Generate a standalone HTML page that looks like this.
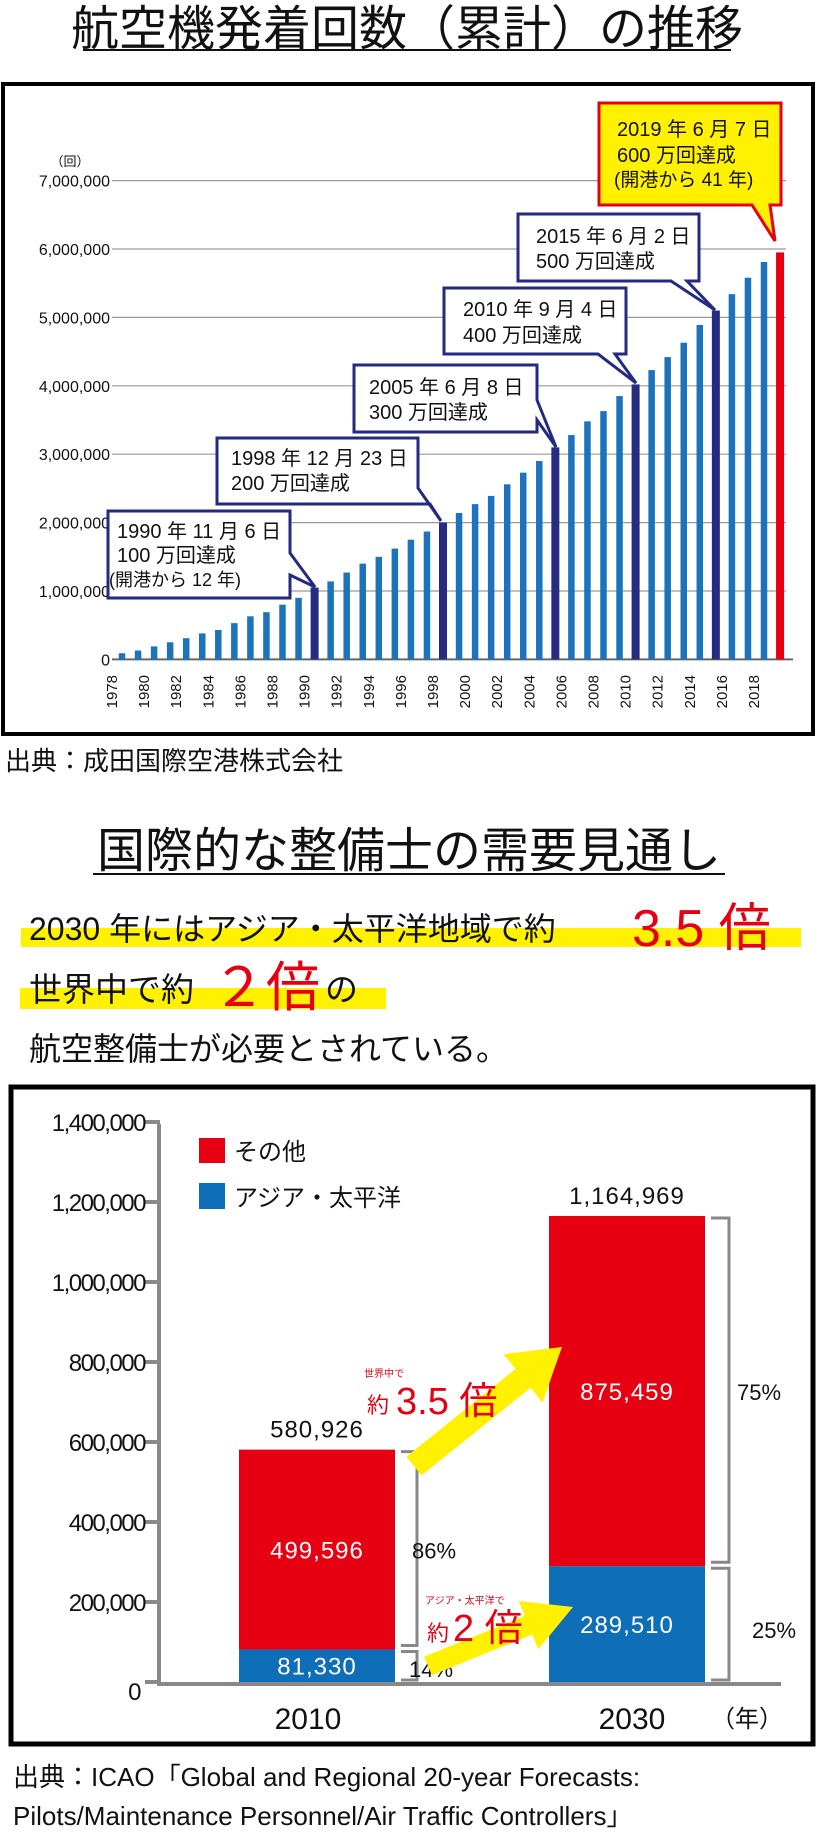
<!DOCTYPE html>
<html lang="ja"><head><meta charset="utf-8">
<style>
html,body{margin:0;padding:0;background:#fff;}
svg{display:block;font-family:"Liberation Sans","Noto Sans CJK JP",sans-serif;}
</style></head>
<body>
<svg id="page" width="816" height="1832" viewBox="0 0 816 1832" xmlns="http://www.w3.org/2000/svg">
  <text x="407" y="45" font-size="48" text-anchor="middle" fill="#111">航空機発着回数（累計）の推移</text>
  <line x1="83" y1="50" x2="731" y2="50" stroke="#111" stroke-width="2"/>
  <rect x="3" y="84" width="810" height="650" fill="none" stroke="#000" stroke-width="4"/>
  <g id="top-chart"></g>
  <g id="callouts">
    <path d="M108,511 H290 V553 L315,587 L290,575 V598 H108 Z" fill="#fff" stroke="#232a80" stroke-width="3"/>
    <text font-size="20" fill="#111"><tspan x="117" y="538">1990 年 11 月 6 日</tspan><tspan x="117" y="562">100 万回達成</tspan><tspan x="109" y="586" font-size="18">(開港から 12 年)</tspan></text>
    <path d="M217,438 H418 V488 L441,521 L430,504 H217 Z" fill="#fff" stroke="#232a80" stroke-width="3"/>
    <text font-size="20" fill="#111"><tspan x="231" y="465">1998 年 12 月 23 日</tspan><tspan x="231" y="490">200 万回達成</tspan></text>
    <path d="M354,365 H537 V400 L556,447 L537,420 V432 H354 Z" fill="#fff" stroke="#232a80" stroke-width="3"/>
    <text font-size="20" fill="#111"><tspan x="369" y="394">2005 年 6 月 8 日</tspan><tspan x="369" y="419">300 万回達成</tspan></text>
    <path d="M444,288 H626 V354 H615 L636,383 L598,354 H444 Z" fill="#fff" stroke="#232a80" stroke-width="3"/>
    <text font-size="20" fill="#111"><tspan x="463" y="316">2010 年 9 月 4 日</tspan><tspan x="463" y="342">400 万回達成</tspan></text>
    <path d="M518,214 H699 V281 H687 L715,310 L671,281 H518 Z" fill="#fff" stroke="#232a80" stroke-width="3"/>
    <text font-size="20" fill="#111"><tspan x="536" y="243">2015 年 6 月 2 日</tspan><tspan x="536" y="268">500 万回達成</tspan></text>
    <path d="M599,103 H781 V205 H770 L775,241 L752,205 H599 Z" fill="#fff100" stroke="#e60012" stroke-width="3"/>
    <text font-size="20" fill="#111"><tspan x="617" y="136">2019 年 6 月 7 日</tspan><tspan x="617" y="162">600 万回達成</tspan><tspan x="614" y="186" font-size="19">(開港から 41 年)</tspan></text>
  </g>
  <text x="5" y="770" font-size="26" fill="#111">出典：成田国際空港株式会社</text>

  <text x="409" y="867" font-size="48" text-anchor="middle" fill="#111">国際的な整備士の需要見通し</text>
  <line x1="93" y1="874" x2="725" y2="874" stroke="#111" stroke-width="2"/>
  <rect x="21" y="928" width="780" height="19" fill="#fff100"/>
  <rect x="20" y="988" width="366" height="21" fill="#fff100"/>
  <text x="29" y="940" font-size="32" fill="#111">2030 年にはアジア・太平洋地域で約</text>
  <text x="632" y="946" font-size="52" fill="#e60012">3.5 倍</text>
  <text x="29" y="1001" font-size="33" fill="#111">世界中で約</text>
  <text x="212" y="1006" font-size="54" fill="#e60012">２倍</text>
  <text x="325" y="1001" font-size="33" fill="#111">の</text>
  <text x="29" y="1060" font-size="32" fill="#111">航空整備士が必要とされている。</text>

  <rect x="11" y="1087" width="802" height="657" fill="none" stroke="#000" stroke-width="5"/>
  <g id="bottom-chart"></g>
  <text x="13" y="1786" font-size="26" fill="#111">出典：ICAO「Global and Regional 20-year Forecasts:</text>
  <text x="13" y="1825" font-size="26" fill="#111">Pilots/Maintenance Personnel/Air Traffic Controllers」</text>
</svg>
<script>
const NS = "http://www.w3.org/2000/svg";
const years = [1978,1979,1980,1981,1982,1983,1984,1985,1986,1987,1988,1989,1990,1991,1992,1993,1994,1995,1996,1997,1998,1999,2000,2001,2002,2003,2004,2005,2006,2007,2008,2009,2010,2011,2012,2013,2014,2015,2016,2017,2018,2019];
const cumulativeFlightsMillions = [0.09,0.13,0.19,0.25,0.31,0.38,0.43,0.53,0.63,0.69,0.80,0.90,1.05,1.14,1.27,1.40,1.50,1.62,1.75,1.87,2.00,2.14,2.27,2.39,2.56,2.73,2.90,3.10,3.28,3.48,3.63,3.85,4.02,4.23,4.42,4.63,4.89,5.10,5.34,5.58,5.81,5.95];
const milestoneYears = [1990,1998,2005,2010,2015];
const finalMilestoneYear = 2019;
const yTicksTop = [0,1,2,3,4,5,6,7];
const yTickLabelsTop = ["0","1,000,000","2,000,000","3,000,000","4,000,000","5,000,000","6,000,000","7,000,000"];

function mk(tag, attrs, parent){const e=document.createElementNS(NS,tag);for(const k in attrs)e.setAttribute(k,attrs[k]);parent.appendChild(e);return e;}

const topG = document.getElementById('top-chart');
const callG = document.getElementById('callouts');
const xTop = i => 122 + i*16.05;
const yTop = v => 659.4 - v*68.4;
yTicksTop.forEach((t,i)=>{
  if(t>0){const g=mk('line',{x1:112,x2:786,y1:yTop(t),y2:yTop(t),stroke:'#9a9a9a','stroke-width':1.2},topG);
  
  }
  const tx=mk('text',{x:110,y:yTop(t)+6,'font-size':16,'text-anchor':'end',fill:'#111'},topG);
  tx.textContent=yTickLabelsTop[i];
  
  
});
const unitTop=mk('text',{x:70,y:166,'font-size':13,'text-anchor':'middle',fill:'#111'},topG);
unitTop.textContent='（回）';


const baseTop=mk('line',{x1:112,x2:793,y1:yTop(0),y2:yTop(0),stroke:'#666','stroke-width':2},topG);


years.forEach((yr,i)=>{
  const v=cumulativeFlightsMillions[i];
  let col='#1d72bc', w=6.5;
  if(milestoneYears.includes(yr)){col='#262c82';w=8;}
  if(yr===finalMilestoneYear){col='#e60012';w=8;}
  const r=mk('rect',{x:xTop(i)-w/2,y:yTop(v),width:w,height:yTop(0)-yTop(v),fill:col},topG);
  
  
  if(yr%2===0){
    const lx=xTop(i)-10+5;
    const t=mk('text',{x:lx,y:675,'font-size':15,'text-anchor':'end',fill:'#111',transform:'rotate(-90 '+lx+' 675)'},topG);
    t.textContent=String(yr);
    
    
  }
});

const regions = ["2010","2030"];
const asiaPacific = [81330,289510];
const otherRegions = [499596,875459];
const totals = ["580,926","1,164,969"];
const asiaLabels = ["81,330","289,510"];
const otherLabels = ["499,596","875,459"];
const otherShare = ["86%","75%"];
const asiaShare = ["14%","25%"];
const yTicksBottom = [0,200000,400000,600000,800000,1000000,1200000,1400000];
const yTickLabelsBottom = ["0","200,000","400,000","600,000","800,000","1,000,000","1,200,000","1,400,000"];

const bot=document.getElementById('bottom-chart');
const yB = v => 1682 - v/200000*80;
const barLeft=[239,549], barW=156;
yTicksBottom.forEach((t,i)=>{
  const tk=mk('line',{x1:145,x2:160,y1:yB(t),y2:yB(t),stroke:'#888','stroke-width':4},bot);
  
  
  const tx=mk('text',{x:i===0?140:145,y:yB(t)+(i===0?18:9),'font-size':24,'text-anchor':'end',fill:'#111','letter-spacing':'-1.5'},bot);
  tx.textContent=yTickLabelsBottom[i];
  
  
});
const ax=mk('line',{x1:159,x2:159,y1:1124,y2:1686,stroke:'#888','stroke-width':4},bot);


regions.forEach((rg,i)=>{
  const x=barLeft[i], a=asiaPacific[i], o=otherRegions[i];
  const rb=mk('rect',{x:x,y:yB(a),width:barW,height:yB(0)-yB(a),fill:'#0e6eb8'},bot);
  
  
  const rr=mk('rect',{x:x,y:yB(a+o),width:barW,height:yB(a)-yB(a+o),fill:'#e60012'},bot);
  
  
  const cx=x+barW/2;
  const l1=mk('text',{x:cx,y:(yB(a)+yB(a+o))/2+9,'font-size':24,'text-anchor':'middle',fill:'#fff','letter-spacing':'1'},bot);
  l1.textContent=otherLabels[i];
  
  
  const l2=mk('text',{x:cx,y:Math.min((yB(0)+yB(a))/2+9,yB(0)-5),'font-size':24,'text-anchor':'middle',fill:'#fff','letter-spacing':'1'},bot);
  l2.textContent=asiaLabels[i];
  
  
  const l3=mk('text',{x:cx,y:yB(a+o)-12,'font-size':24,'text-anchor':'middle',fill:'#111','letter-spacing':'1'},bot);
  l3.textContent=totals[i];
  
  
  const bx=x+barW+6, bw=i===0?16:18;
  const b1=mk('path',{d:`M${bx},${yB(a+o)+2} H${bx+bw} V${yB(a)-4} H${bx}`,fill:'none',stroke:'#888','stroke-width':3},bot);
  
  
  const b2=mk('path',{d:`M${bx},${yB(a)+2} H${bx+bw} V${yB(0)-2} H${bx}`,fill:'none',stroke:'#888','stroke-width':3},bot);
  
  
  const px=i===0?bx+11:bx+26;
  const p1=mk('text',{x:px,y:(yB(a)+yB(a+o))/2+9,'font-size':22,fill:'#111'},bot);
  p1.textContent=otherShare[i];
  
  
  const p2=mk('text',{x:i===0?bx+8:bx+41,y:i===0?yB(0)-5:(yB(0)+yB(a))/2+14,'font-size':22,fill:'#111'},bot);
  p2.textContent=asiaShare[i];
  
  
  const xl=mk('text',{x:i===0?308:632,y:1729,'font-size':30,'text-anchor':'middle',fill:'#111'},bot);
  xl.textContent=rg;
  
  
});
const xb=mk('line',{x1:157,x2:781,y1:1684,y2:1684,stroke:'#888','stroke-width':4},bot);


const yu=mk('text',{x:747,y:1727,'font-size':24,'text-anchor':'middle',fill:'#111'},bot);
yu.textContent='（年）';


const lg1=mk('rect',{x:199,y:1138,width:26,height:25,fill:'#e60012'},bot);


const lt1=mk('text',{x:234,y:1160,'font-size':24,fill:'#111'},bot);
lt1.textContent='その他';


const lg2=mk('rect',{x:199,y:1183,width:26,height:26,fill:'#0e6eb8'},bot);


const lt2=mk('text',{x:234,y:1206,'font-size':24,fill:'#111'},bot);
lt2.textContent='アジア・太平洋';


function arrow(x1,y1,x2,y2,sw,hw,hl){
  const dx=x2-x1,dy=y2-y1,L=Math.hypot(dx,dy),ux=dx/L,uy=dy/L,nx=-uy,ny=ux;
  const bx=x2-ux*hl,by=y2-uy*hl;
  const p=[[x1+nx*sw/2,y1+ny*sw/2],[bx+nx*sw/2,by+ny*sw/2],[bx+nx*hw/2,by+ny*hw/2],[x2,y2],[bx-nx*hw/2,by-ny*hw/2],[bx-nx*sw/2,by-ny*sw/2],[x1-nx*sw/2,y1-ny*sw/2]];
  return p.map(q=>q[0].toFixed(1)+','+q[1].toFixed(1)).join(' ');
}
const ar1=mk('polygon',{points:arrow(414,1466,562,1347,24,62,50),fill:'#fff100'},bot);


const ar2=mk('polygon',{points:arrow(428,1666,573,1607,20,52,48),fill:'#fff100'},bot);


const an=[['世界中で',364,1377,10,'annotation-world-caption'],['約',367,1413,22,'annotation-world-approx'],['3.5 倍',396,1414,38,'annotation-world-multiplier'],['アジア・太平洋で',425,1604,10,'annotation-asia-caption'],['約',427,1641,22,'annotation-asia-approx'],['2 倍',453,1641,38,'annotation-asia-multiplier']];
an.forEach(a=>{const t=mk('text',{x:a[1],y:a[2],'font-size':a[3],fill:'#e60012'},bot);t.textContent=a[0];
  
  });
</script>
</body></html>
